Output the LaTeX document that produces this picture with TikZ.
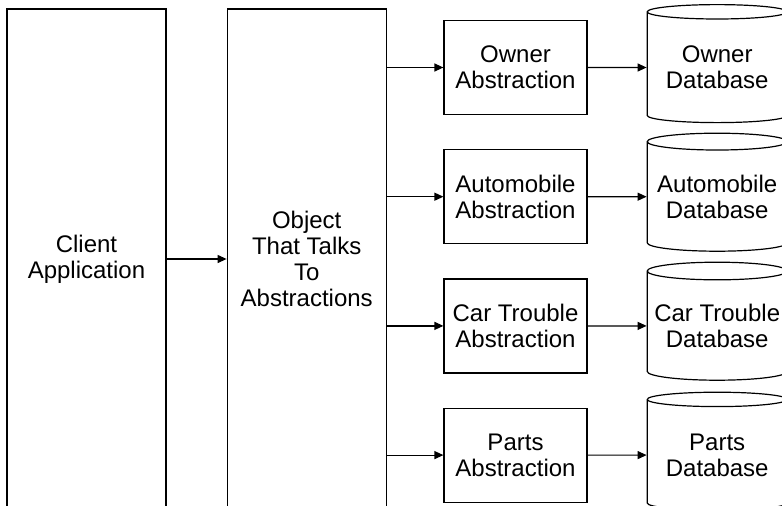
\documentclass[tikz,border=0pt]{standalone}
\usepackage{fontspec}
\setmainfont{Liberation Sans}
\usetikzlibrary{positioning, arrows.meta, shapes.geometric}

\begin{document}
\begin{tikzpicture}[
    x=1pt, y=-1pt,
    font=\fontsize{24}{26}\selectfont,
    tallbox/.style={rectangle, draw, line width=1.2pt, minimum width=159pt, minimum height=500pt, align=center, inner sep=0pt},
    absbox/.style={rectangle, draw, line width=1.2pt, minimum width=143pt, minimum height=94pt, align=center, inner sep=0pt},
    dbase/.style={cylinder, draw, line width=1.2pt, shape border rotate=90, aspect=0.14, minimum width=140pt, minimum height=118pt, align=center, inner sep=0pt},
    link/.style={-{Triangle[length=9pt, width=8pt]}, line width=1.2pt},
]
\useasboundingbox (0,0) rectangle (782,506);
\clip (0,0) rectangle (782,506);

\node [tallbox] (client) at (86.5,259) {Client\\Application};
\node [tallbox, right=60pt of client] (object) {Object\\That Talks\\To\\Abstractions};

% abstractions
\node [absbox] (owner) at (515.5,67.5) {Owner\\Abstraction};
\node [absbox, below=34pt of owner] (auto) {Automobile\\Abstraction};
\node [absbox, below=34pt of auto] (trouble) {Car Trouble\\Abstraction};
\node [absbox, below=34pt of trouble] (parts) {Parts\\Abstraction};

% databases
\node [dbase, right=59pt of owner] (ownerdb) {Owner\\Database};
\node [dbase, right=59pt of auto] (autodb) {Automobile\\Database};
\node [dbase, right=59pt of trouble] (troubledb) {Car Trouble\\Database};
\node [dbase, right=59pt of parts] (partsdb) {Parts\\Database};

\draw [link] (client) -- (object);
\foreach \ab/\db in {owner/ownerdb, auto/autodb, trouble/troubledb, parts/partsdb}{
    \draw [link] (object.east |- \ab.west) -- (\ab);
    \draw [link] (\ab) -- (\db);
}
\end{tikzpicture}
\end{document}
